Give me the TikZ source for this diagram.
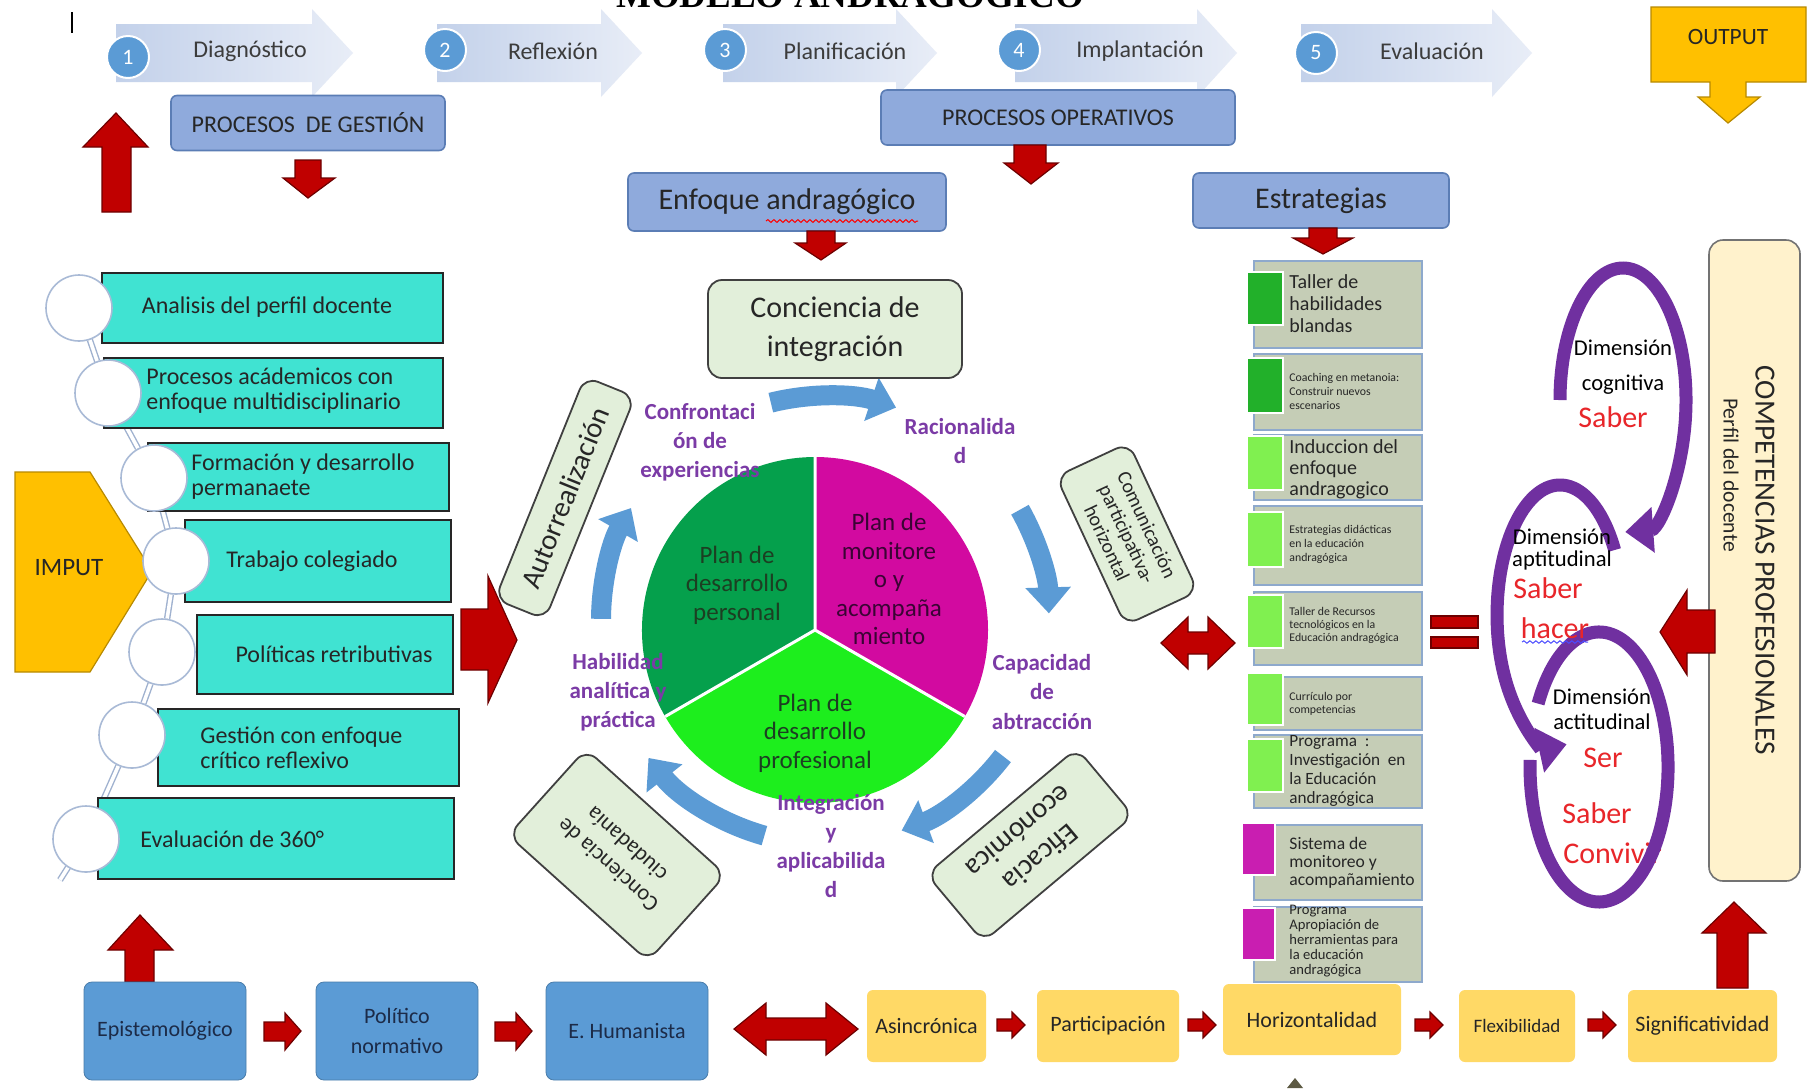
\documentclass[tikz,border=0pt]{standalone}
\usepackage{fontspec}
\setmainfont{Carlito}
\newfontfamily\ttlfont{Liberation Serif}
\usetikzlibrary{arrows.meta,calc,decorations.pathmorphing,backgrounds}
\newcommand\fsz[2]{\fontsize{#1}{#2}\selectfont}
\definecolor{chevL}{HTML}{C3D1EA}
\definecolor{chevR}{HTML}{E8EDF7}
\definecolor{numblue}{HTML}{5B9BD5}
\definecolor{procfill}{HTML}{8FAADC}
\definecolor{procdraw}{HTML}{5B7DB5}
\definecolor{arrred}{HTML}{C00000}
\definecolor{arrdark}{HTML}{6E0000}
\definecolor{gold}{HTML}{FFC000}
\definecolor{golddraw}{HTML}{B88A00}
\definecolor{turq}{HTML}{40E3D2}
\definecolor{circdraw}{HTML}{A9BAD6}
\definecolor{lgreen}{HTML}{E2EFDA}
\definecolor{pieDark}{HTML}{05A04C}
\definecolor{pieMag}{HTML}{D20AA0}
\definecolor{pieLight}{HTML}{1DEE1D}
\definecolor{pblue}{HTML}{5B9BD5}
\definecolor{violet}{HTML}{7030A0}
\definecolor{labviolet}{HTML}{7B3BA6}
\definecolor{stratfill}{HTML}{C5CDB6}
\definecolor{stratdraw}{HTML}{8EA9CC}
\definecolor{sqdark}{HTML}{22B02A}
\definecolor{sqlight}{HTML}{80F050}
\definecolor{sqmag}{HTML}{C91EB1}
\definecolor{cream}{HTML}{FFF2CC}
\definecolor{yel}{HTML}{FFD966}
\definecolor{bluebox}{HTML}{5B9BD5}
\definecolor{txtdark}{HTML}{262626}
\definecolor{txtgray}{HTML}{3C3C3C}
\definecolor{redtxt}{HTML}{E8262A}
\definecolor{navytxt}{HTML}{1C2B48}
\definecolor{pietxtg}{HTML}{1C3F22}
\definecolor{magtext}{HTML}{3A0434}
\definecolor{chaincol}{HTML}{9FB1CF}
\newcommand\chevshape[3]{\shade[left color=chevL, right color=chevR] (#1,24) -- (#2,24) -- (#2,9) -- (#3,53) -- (#2,97) -- (#2,82) -- (#1,82) -- cycle;}
\newcommand\smallarr[1]{\path[redarr] ({#1},1019) -- ({#1+15},1019) -- ({#1+15},1012) -- ({#1+28},1025) -- ({#1+15},1038) -- ({#1+15},1031) -- ({#1},1031) -- cycle;}
\begin{document}
\begin{tikzpicture}[x=0.5pt,y=-0.5pt,
 chevtxt/.style={font=\fsz{12}{14}, text=txtgray, inner sep=0pt},
 numc/.style={circle, fill=numblue, draw=white, line width=1pt, minimum size=21pt, inner sep=0pt, text=white, font=\fsz{11}{12}},
 procbox/.style={draw=procdraw, fill=procfill, rounded corners=3pt, line width=0.8pt, inner sep=0pt, font=\fsz{12}{14}, text=txtdark},
 redarr/.style={fill=arrred, draw=arrdark, line width=0.6pt},
 turqbox/.style={draw=black!85, fill=turq, line width=0.8pt, inner sep=0pt},
 listtxt/.style={font=\fsz{12}{12.5}, text=txtdark, align=left, inner sep=0pt},
 wcirc/.style={circle, draw=circdraw, fill=white, line width=0.8pt, minimum size=33pt, inner sep=0pt},
 linkline/.style={draw=chaincol, line width=0.7pt, double=white, double distance=1.8pt},
 gbox/.style={draw=black!75, fill=lgreen, rounded corners=7pt, line width=0.9pt, inner sep=0pt, align=center, text=txtdark},
 plab/.style={font=\bfseries\fsz{11.5}{14.5}, text=labviolet, align=center, inner sep=0pt},
 pietxt/.style={font=\fsz{12.5}{14.3}, align=center, inner sep=0pt},
 bluearr/.style={draw=pblue, line width=10pt, -{Triangle[width=22pt,length=13pt]}},
 stratbox/.style={draw=stratdraw, fill=stratfill, line width=0.9pt, inner sep=0pt, minimum width=84pt},
 sq/.style={draw=white, line width=0.8pt, inner sep=0pt},
 strattxt/.style={align=left, inner sep=0pt, text=txtdark, anchor=west},
 spiral/.style={draw=violet, line width=6.5pt},
 dimtxt/.style={font=\fsz{11.3}{12}, text=black, inner sep=0pt},
 redword/.style={font=\fsz{15}{16}, text=redtxt, inner sep=0pt},
 bbox/.style={fill=bluebox, draw=bluebox!80!black, line width=0.4pt, rounded corners=4pt, inner sep=0pt, minimum width=81pt, minimum height=49pt, font=\fsz{11}{15}, text=navytxt, align=center},
 ybox/.style={fill=yel, rounded corners=3pt, inner sep=0pt, minimum height=36pt, font=\fsz{11}{13}, text=txtdark}
]
\useasboundingbox (0,0) rectangle (1813,1088);
\begin{pgfonlayer}{background}
\fill[white] (0,0) rectangle (1813,1088);
\end{pgfonlayer}

% title (cut by the top edge)
\begin{scope}
\clip (0,0) rectangle (1813,1088);
\node[font=\ttlfont\bfseries\fsz{18.5}{20}, anchor=base, inner sep=0pt] (title) at (850,7) {MODELO ANDRAGÓGICO};
\end{scope}
\draw[line width=1pt] (72,12) -- (72,33);

% process chevrons
\chevshape{116}{312}{353}
\chevshape{437}{601}{642}
\chevshape{723}{896}{937}
\chevshape{1015}{1197}{1237}
\chevshape{1301}{1492}{1532}
\node[chevtxt] (c1t) at (250,51) {Diagnóstico};
\node[chevtxt] (c2t) at (553,51) {Reflexión};
\node[chevtxt] (c3t) at (845,51) {Planificación};
\node[chevtxt] (c4t) at (1140,51) {Implantación};
\node[chevtxt] (c5t) at (1432,51) {Evaluación};
\node[numc] (n1) at (128,57) {1};
\node[numc] (n2) at (445,50) {2};
\node[numc] (n3) at (725,50) {3};
\node[numc] (n4) at (1019,50) {4};
\node[numc] (n5) at (1316,53) {5};

% process boxes
\node[procbox, minimum width=137pt, minimum height=27.5pt] (pg) at (308,123) {PROCESOS\ \ DE GESTIÓN};
\node[procbox, minimum width=177pt, minimum height=27.5pt] (po) at (1058,117.5) {PROCESOS OPERATIVOS};
\node[procbox, minimum width=159pt, minimum height=29pt, font=\fsz{15}{17}] (enf) at (787,202) {Enfoque andragógico};
\draw[red, line width=0.5pt, decorate, decoration={snake, amplitude=0.7pt, segment length=3pt}] (766,221) -- (918,221);
\node[procbox, minimum width=128pt, minimum height=27.5pt, font=\fsz{15}{17}] (est) at (1321,200.5) {Estrategias};

% red arrows top
\path[redarr] (102,212) -- (102,147) -- (83,147) -- (116,113) -- (148,147) -- (131,147) -- (131,212) -- cycle;
\path[redarr] (295,160) -- (321,160) -- (321,178) -- (335,178) -- (308,198) -- (283,178) -- (295,178) -- cycle;
\path[redarr] (1014,145) -- (1046,145) -- (1046,163) -- (1058,163) -- (1031,184) -- (1004,163) -- (1014,163) -- cycle;
\path[redarr] (807,231) -- (835,231) -- (835,243) -- (846,243) -- (821,260) -- (795,243) -- (807,243) -- cycle;
\path[redarr] (1309,228) -- (1337,228) -- (1337,238) -- (1353,238) -- (1323,254) -- (1293,238) -- (1309,238) -- cycle;

% OUTPUT
\path[fill=gold, draw=golddraw, line width=0.6pt] (1651,7) -- (1806,7) -- (1806,82) -- (1746,82) -- (1746,97) -- (1760,97) -- (1728,123) -- (1698,97) -- (1710,97) -- (1710,82) -- (1651,82) -- cycle;
\node[font=\fsz{11.7}{13}, text=txtdark, inner sep=0pt] (out) at (1728,37) {OUTPUT};

% IMPUT
\path[fill=gold, draw=golddraw, line width=0.6pt] (15,472) -- (90,472) -- (152,571) -- (90,672) -- (15,672) -- cycle;
\node[font=\fsz{12.5}{14}, text=txtdark, inner sep=0pt] (imp) at (69,568) {IMPUT};

% left list
\node[turqbox, minimum width=170.5pt, minimum height=35pt] (b1) at (272.5,308) {};
\node[turqbox, minimum width=169.5pt, minimum height=35pt] (b2) at (273.5,393) {};
\node[turqbox, minimum width=150.5pt, minimum height=34pt] (b3) at (298.5,477) {};
\node[turqbox, minimum width=133pt, minimum height=41pt] (b4) at (318,561) {};
\node[turqbox, minimum width=128pt, minimum height=39.5pt] (b5) at (325,654.5) {};
\node[turqbox, minimum width=150.5pt, minimum height=38.5pt] (b6) at (308.5,747.5) {};
\node[turqbox, minimum width=178pt, minimum height=40.5pt] (b7) at (276,838.5) {};
\node[listtxt] (l1) at (267,307) {Analisis del perfil docente};
\node[listtxt, anchor=west] (l2) at (146,391) {Procesos acádemicos con\\enfoque multidisciplinario};
\node[listtxt, anchor=west] (l3) at (191,477) {Formación y desarrollo\\permanaete};
\node[listtxt] (l4) at (312,561) {Trabajo colegiado};
\node[listtxt] (l5) at (334,654) {Políticas retributivas};
\node[listtxt, anchor=west] (l6) at (200,748) {Gestión con enfoque\\crítico reflexivo};
\node[listtxt, anchor=west] (l7) at (140,839) {Evaluación de 360°};
\node[wcirc] (k1) at (79,308) {};
\node[wcirc] (k2) at (108,393) {};
\node[wcirc] (k3) at (154,478) {};
\node[wcirc] (k4) at (176,561) {};
\node[wcirc] (k5) at (162,652) {};
\node[wcirc] (k6) at (132,735) {};
\node[wcirc] (k7) at (86,839) {};
\coordinate (ktail) at (60,880);
\begin{pgfonlayer}{background}
\draw[linkline] (k1) -- (k2) -- (k3) -- (k4) -- (k5) -- (k6) -- (k7) -- (ktail);
\end{pgfonlayer}

% arrow list -> centre
\path[redarr] (461,609) -- (488,609) -- (488,576) -- (517,640) -- (488,703) -- (488,670) -- (461,670) -- cycle;

% centre: pie
\coordinate (pc) at (815,630);
\fill[pieMag] (pc) -- ($(pc)+(-90:173)$) arc[start angle=-90, end angle=30, radius=173] -- cycle;
\fill[pieLight] (pc) -- ($(pc)+(30:173)$) arc[start angle=30, end angle=150, radius=173] -- cycle;
\fill[pieDark] (pc) -- ($(pc)+(150:173)$) arc[start angle=150, end angle=270, radius=173] -- cycle;
\draw[white, line width=1.5pt] (pc) -- ($(pc)+(-90:173)$) (pc) -- ($(pc)+(30:173)$) (pc) -- ($(pc)+(150:173)$);
\node[pietxt, text=pietxtg] (p1) at (737,585) {Plan de\\desarrollo\\personal};
\node[pietxt, text=magtext] (p2) at (889,579) {\color{magtext}Plan de\\monitore\\o y\\acompaña\\miento};
\node[pietxt, text=pietxtg] (p3) at (815,733) {Plan de\\desarrollo\\profesional};

% blue cycle arrows
\coordinate (ac) at (825,620);
\foreach \a/\b in {-104/-71.5, -29.5/-1.7, 37.4/70, 105.7/142, 180.3/210}
  \draw[bluearr] ($(ac)+(\a:224)$) arc[start angle=\a, end angle=\b, radius=224];

% purple labels
\node[plab] (q1) at (700,442) {Confrontaci\\ón de\\experiencias};
\node[plab] (q2) at (960,441) {Racionalida\\d};
\node[plab] (q3) at (1042,692) {Capacidad\\de\\abtracción};
\node[plab] (q4) at (618,692) {Habilidad\\analítica y\\práctica};
\node[plab] (q5) at (831,846) {Integración\\y\\aplicabilida\\d};

% light green boxes
\node[gbox, minimum width=127pt, minimum height=49pt, font=\fsz{15}{19.5}] (cint) at (835,329) {Conciencia de\\integración};
\node[gbox, rotate=68, minimum width=120pt, minimum height=27pt, font=\fsz{14.5}{16}] (autor) at (565,498) {Autorrealización};
\node[gbox, rotate=-65, minimum width=82pt, minimum height=40pt, font=\fsz{10}{11}] (comu) at (1127,534) {Comunicación\\participativa-\\horizontal};
\node[gbox, rotate=-140, minimum width=98pt, minimum height=44pt, font=\fsz{14.5}{17}] (efic) at (1030,845) {Eficacia\\económica};
\node[gbox, rotate=138, minimum width=94pt, minimum height=58pt, font=\fsz{11.3}{14}] (ciud) at (617,855) {Conciencia de\\ciudadanía};

% double arrow centre <-> strategies
\path[redarr] (1161,643) -- (1188,617) -- (1188,632) -- (1208,632) -- (1208,617) -- (1235,643) -- (1208,669) -- (1208,654) -- (1188,654) -- (1188,669) -- cycle;

% strategies
\node[stratbox, minimum height=43.5pt] (s1) at (1338,304.5) {};
\node[stratbox, minimum height=38pt] (s2) at (1338,392) {};
\node[stratbox, minimum height=32.5pt] (s3) at (1338,467.5) {};
\node[stratbox, minimum height=39.5pt] (s4) at (1338,545.5) {};
\node[stratbox, minimum height=36.5pt] (s5) at (1338,628.5) {};
\node[stratbox, minimum height=26.5pt] (s6) at (1338,703.5) {};
\node[stratbox, minimum height=36.5pt] (s7) at (1338,771.5) {};
\node[stratbox, minimum height=37.5pt] (s8) at (1338,862.5) {};
\node[stratbox, minimum height=37.5pt] (s9) at (1338,944.5) {};
\node[sq, fill=sqdark, minimum width=18pt, minimum height=26.5pt] (q1s) at (1265,298.5) {};
\node[sq, fill=sqdark, minimum width=18pt, minimum height=27.5pt] (q2s) at (1265,385.5) {};
\node[sq, fill=sqlight, minimum width=18pt, minimum height=27pt] (q3s) at (1265,463) {};
\node[sq, fill=sqlight, minimum width=18pt, minimum height=27.5pt] (q4s) at (1265,539.5) {};
\node[sq, fill=sqlight, minimum width=18pt, minimum height=26.5pt] (q5s) at (1265,621.5) {};
\node[sq, fill=sqlight, minimum width=18pt, minimum height=26pt] (q6s) at (1265,699) {};
\node[sq, fill=sqlight, minimum width=18pt, minimum height=26.5pt] (q7s) at (1265,765.5) {};
\node[sq, fill=sqmag, minimum width=16.5pt, minimum height=26pt] (q8s) at (1258.5,849) {};
\node[sq, fill=sqmag, minimum width=16.5pt, minimum height=26pt] (q9s) at (1258.5,934) {};
\node[strattxt, font=\fsz{10}{11}] (st1) at (1289,304) {Taller de\\habilidades\\blandas};
\node[strattxt, font=\fsz{5.9}{7}] (st2) at (1289,391) {Coaching en metanoia:\\Construir nuevos\\escenarios};
\node[strattxt, font=\fsz{10}{10.5}] (st3) at (1289,469) {Induccion del\\enfoque\\andragogico};
\node[strattxt, font=\fsz{5.9}{7}] (st4) at (1289,544) {Estrategias didácticas\\en la educación\\andragógica};
\node[strattxt, font=\fsz{5.9}{6.5}] (st5) at (1289,625) {Taller de Recursos\\tecnológicos en la\\Educación andragógica};
\node[strattxt, font=\fsz{5.9}{6.5}] (st6) at (1289,703.5) {Currículo por\\competencias};
\node[strattxt, font=\fsz{8.6}{9.5}] (st7) at (1289,771) {Programa\ \ :\\Investigación\ \ en\\la Educación\\andragógica};
\node[strattxt, font=\fsz{8.8}{9}] (st8) at (1289,863) {Sistema de\\monitoreo y\\acompañamiento};
\node[strattxt, font=\fsz{7.3}{7.5}] (st9) at (1289,941) {Programa\\Apropiación de\\herramientas para\\la educación\\andragógica};

% equal sign
\path[redarr] (1431,616) rectangle (1478,628);
\path[redarr] (1431,637) rectangle (1478,648);

% competencias
\node[draw=black!55, fill=cream, rounded corners=7pt, line width=0.8pt, minimum width=45.5pt, minimum height=320.5pt, inner sep=0pt] (comp) at (1754.5,560.5) {};
\node[rotate=-90, font=\fsz{14.6}{16}, text=txtdark, inner sep=0pt] (compt) at (1765,560) {COMPETENCIAS PROFESIONALES};
\node[rotate=-90, font=\fsz{10.8}{12}, text=txtdark, inner sep=0pt] (perf) at (1731,475) {Perfil del docente};
\path[redarr] (1715,610) -- (1687,610) -- (1687,590) -- (1660,632) -- (1687,675) -- (1687,653) -- (1715,653) -- cycle;
\path[redarr] (1717,988) -- (1717,933) -- (1702,933) -- (1734,902) -- (1766,933) -- (1748,933) -- (1748,988) -- cycle;

% spirals
\draw[spiral, -{Triangle[width=22pt,length=14pt]}] (1560,400) arc[start angle=180, end angle=448, x radius=63, y radius=132];
\draw[spiral, -{Triangle[width=22pt,length=14pt]}] (1614.6,550) arc[start angle=-30, end angle=-276, x radius=63, y radius=130];
\node[redword, anchor=west] (conv) at (1563,853) {Convivir};
\draw[spiral] (1538.1,703.6) arc[start angle=-152, end angle=183, x radius=69, y radius=135];
\node[dimtxt] (d1) at (1623,348) {Dimensión};
\node[dimtxt] (d1b) at (1623,385) {cognitiva};
\node[redword] (r1) at (1613,417) {Saber};
\node[dimtxt] (d2) at (1562,537) {Dimensión};
\node[dimtxt] (d2b) at (1562,560) {aptitudinal};
\node[redword] (r2) at (1548,588) {Saber};
\node[redword] (r2b) at (1555,628) {hacer};
\draw[blue!70, line width=0.5pt, decorate, decoration={snake, amplitude=0.6pt, segment length=3pt}] (1522,642) -- (1588,642);
\node[dimtxt] (d3) at (1602,697) {Dimensión};
\node[dimtxt] (d3b) at (1602,722) {actitudinal};
\node[redword] (r3) at (1603,758) {Ser};
\node[redword] (r3b) at (1597,813) {Saber};

% bottom row
\path[redarr] (125,982) -- (125,950) -- (108,950) -- (140,915) -- (173,950) -- (154,950) -- (154,982) -- cycle;
\node[bbox] (e1) at (165,1031) {Epistemológico};
\node[bbox] (e2) at (397,1031) {Político\\normativo};
\node[bbox] (e3) at (627,1031) {E. Humanista};
\path[redarr] (264,1022) -- (285,1022) -- (285,1013) -- (301,1031) -- (285,1050) -- (285,1041) -- (264,1041) -- cycle;
\path[redarr] (495,1022) -- (516,1022) -- (516,1013) -- (532,1031) -- (516,1050) -- (516,1041) -- (495,1041) -- cycle;
\path[redarr] (734,1029) -- (766,1003) -- (766,1018) -- (826,1018) -- (826,1003) -- (858,1029) -- (826,1055) -- (826,1040) -- (766,1040) -- (766,1055) -- cycle;
\node[ybox, minimum width=59.5pt] (y1) at (926.5,1026) {Asincrónica};
\node[ybox, minimum width=71pt] (y2) at (1108,1026) {Participación};
\node[ybox, minimum width=89pt, minimum height=35.5pt] (y3) at (1312,1019.5) {Horizontalidad};
\node[ybox, minimum width=58pt, font=\fsz{9.5}{11}] (y4) at (1517,1026) {Flexibilidad};
\node[ybox, minimum width=74.5pt] (y5) at (1702.5,1026) {Significatividad};
\smallarr{997}
\smallarr{1188}
\smallarr{1415}
\smallarr{1588}
\path[fill=black!55!yellow!60!black] (1287,1088) -- (1295,1078) -- (1303,1088) -- cycle;
\end{tikzpicture}
\end{document}
